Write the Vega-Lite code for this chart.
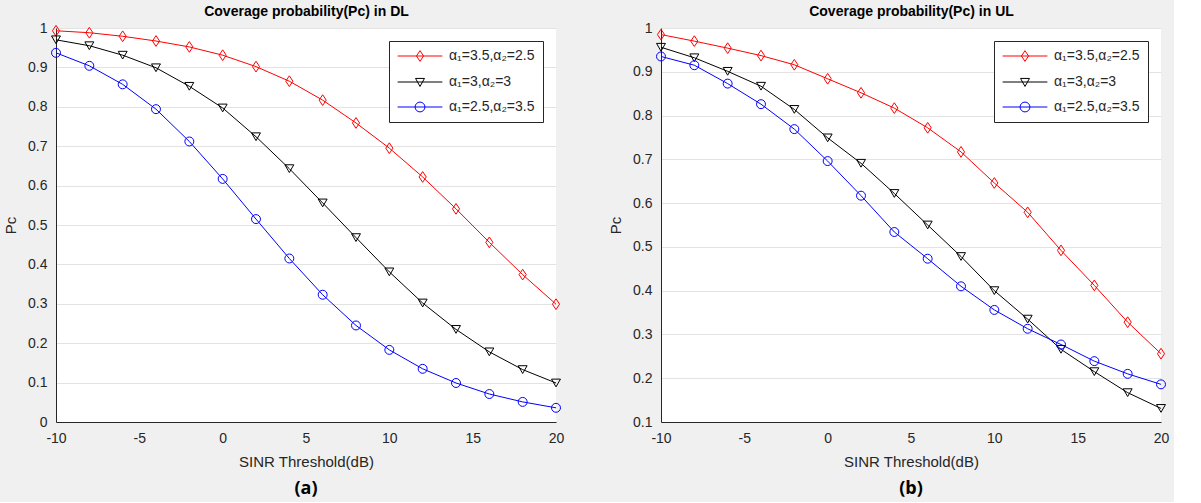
{
  "$schema": "https://vega.github.io/schema/vega-lite/v6.json",
  "background": "#f0f0f0",
  "padding": {"left": 3, "top": 4, "right": 5, "bottom": 4},
  "datasets": {
    "DL": [
      {"x": -10, "y": 0.993, "s": "α₁=3.5,α₂=2.5"}, {"x": -8, "y": 0.988, "s": "α₁=3.5,α₂=2.5"}, {"x": -6, "y": 0.979, "s": "α₁=3.5,α₂=2.5"}, {"x": -4, "y": 0.967, "s": "α₁=3.5,α₂=2.5"},
      {"x": -2, "y": 0.952, "s": "α₁=3.5,α₂=2.5"}, {"x": 0, "y": 0.931, "s": "α₁=3.5,α₂=2.5"}, {"x": 2, "y": 0.902, "s": "α₁=3.5,α₂=2.5"}, {"x": 4, "y": 0.865, "s": "α₁=3.5,α₂=2.5"},
      {"x": 6, "y": 0.817, "s": "α₁=3.5,α₂=2.5"}, {"x": 8, "y": 0.759, "s": "α₁=3.5,α₂=2.5"}, {"x": 10, "y": 0.695, "s": "α₁=3.5,α₂=2.5"}, {"x": 12, "y": 0.622, "s": "α₁=3.5,α₂=2.5"},
      {"x": 14, "y": 0.541, "s": "α₁=3.5,α₂=2.5"}, {"x": 16, "y": 0.456, "s": "α₁=3.5,α₂=2.5"}, {"x": 18, "y": 0.374, "s": "α₁=3.5,α₂=2.5"}, {"x": 20, "y": 0.299, "s": "α₁=3.5,α₂=2.5"},
      {"x": -10, "y": 0.970, "s": "α₁=3,α₂=3"}, {"x": -8, "y": 0.955, "s": "α₁=3,α₂=3"}, {"x": -6, "y": 0.931, "s": "α₁=3,α₂=3"}, {"x": -4, "y": 0.899, "s": "α₁=3,α₂=3"},
      {"x": -2, "y": 0.852, "s": "α₁=3,α₂=3"}, {"x": 0, "y": 0.797, "s": "α₁=3,α₂=3"}, {"x": 2, "y": 0.724, "s": "α₁=3,α₂=3"}, {"x": 4, "y": 0.643, "s": "α₁=3,α₂=3"},
      {"x": 6, "y": 0.556, "s": "α₁=3,α₂=3"}, {"x": 8, "y": 0.468, "s": "α₁=3,α₂=3"}, {"x": 10, "y": 0.381, "s": "α₁=3,α₂=3"}, {"x": 12, "y": 0.302, "s": "α₁=3,α₂=3"},
      {"x": 14, "y": 0.235, "s": "α₁=3,α₂=3"}, {"x": 16, "y": 0.178, "s": "α₁=3,α₂=3"}, {"x": 18, "y": 0.133, "s": "α₁=3,α₂=3"}, {"x": 20, "y": 0.099, "s": "α₁=3,α₂=3"},
      {"x": -10, "y": 0.937, "s": "α₁=2.5,α₂=3.5"}, {"x": -8, "y": 0.904, "s": "α₁=2.5,α₂=3.5"}, {"x": -6, "y": 0.857, "s": "α₁=2.5,α₂=3.5"}, {"x": -4, "y": 0.794, "s": "α₁=2.5,α₂=3.5"},
      {"x": -2, "y": 0.712, "s": "α₁=2.5,α₂=3.5"}, {"x": 0, "y": 0.617, "s": "α₁=2.5,α₂=3.5"}, {"x": 2, "y": 0.515, "s": "α₁=2.5,α₂=3.5"}, {"x": 4, "y": 0.415, "s": "α₁=2.5,α₂=3.5"},
      {"x": 6, "y": 0.323, "s": "α₁=2.5,α₂=3.5"}, {"x": 8, "y": 0.245, "s": "α₁=2.5,α₂=3.5"}, {"x": 10, "y": 0.183, "s": "α₁=2.5,α₂=3.5"}, {"x": 12, "y": 0.135, "s": "α₁=2.5,α₂=3.5"},
      {"x": 14, "y": 0.099, "s": "α₁=2.5,α₂=3.5"}, {"x": 16, "y": 0.071, "s": "α₁=2.5,α₂=3.5"}, {"x": 18, "y": 0.051, "s": "α₁=2.5,α₂=3.5"}, {"x": 20, "y": 0.036, "s": "α₁=2.5,α₂=3.5"}
    ],
    "UL": [
      {"x": -10, "y": 0.985, "s": "α₁=3.5,α₂=2.5"}, {"x": -8, "y": 0.970, "s": "α₁=3.5,α₂=2.5"}, {"x": -6, "y": 0.954, "s": "α₁=3.5,α₂=2.5"}, {"x": -4, "y": 0.937, "s": "α₁=3.5,α₂=2.5"},
      {"x": -2, "y": 0.916, "s": "α₁=3.5,α₂=2.5"}, {"x": 0, "y": 0.884, "s": "α₁=3.5,α₂=2.5"}, {"x": 2, "y": 0.852, "s": "α₁=3.5,α₂=2.5"}, {"x": 4, "y": 0.817, "s": "α₁=3.5,α₂=2.5"},
      {"x": 6, "y": 0.772, "s": "α₁=3.5,α₂=2.5"}, {"x": 8, "y": 0.717, "s": "α₁=3.5,α₂=2.5"}, {"x": 10, "y": 0.646, "s": "α₁=3.5,α₂=2.5"}, {"x": 12, "y": 0.579, "s": "α₁=3.5,α₂=2.5"},
      {"x": 14, "y": 0.492, "s": "α₁=3.5,α₂=2.5"}, {"x": 16, "y": 0.412, "s": "α₁=3.5,α₂=2.5"}, {"x": 18, "y": 0.328, "s": "α₁=3.5,α₂=2.5"}, {"x": 20, "y": 0.256, "s": "α₁=3.5,α₂=2.5"},
      {"x": -10, "y": 0.956, "s": "α₁=3,α₂=3"}, {"x": -8, "y": 0.932, "s": "α₁=3,α₂=3"}, {"x": -6, "y": 0.901, "s": "α₁=3,α₂=3"}, {"x": -4, "y": 0.867, "s": "α₁=3,α₂=3"},
      {"x": -2, "y": 0.814, "s": "α₁=3,α₂=3"}, {"x": 0, "y": 0.749, "s": "α₁=3,α₂=3"}, {"x": 2, "y": 0.691, "s": "α₁=3,α₂=3"}, {"x": 4, "y": 0.622, "s": "α₁=3,α₂=3"},
      {"x": 6, "y": 0.550, "s": "α₁=3,α₂=3"}, {"x": 8, "y": 0.478, "s": "α₁=3,α₂=3"}, {"x": 10, "y": 0.400, "s": "α₁=3,α₂=3"}, {"x": 12, "y": 0.335, "s": "α₁=3,α₂=3"},
      {"x": 14, "y": 0.266, "s": "α₁=3,α₂=3"}, {"x": 16, "y": 0.215, "s": "α₁=3,α₂=3"}, {"x": 18, "y": 0.167, "s": "α₁=3,α₂=3"}, {"x": 20, "y": 0.131, "s": "α₁=3,α₂=3"},
      {"x": -10, "y": 0.935, "s": "α₁=2.5,α₂=3.5"}, {"x": -8, "y": 0.915, "s": "α₁=2.5,α₂=3.5"}, {"x": -6, "y": 0.873, "s": "α₁=2.5,α₂=3.5"}, {"x": -4, "y": 0.826, "s": "α₁=2.5,α₂=3.5"},
      {"x": -2, "y": 0.769, "s": "α₁=2.5,α₂=3.5"}, {"x": 0, "y": 0.696, "s": "α₁=2.5,α₂=3.5"}, {"x": 2, "y": 0.617, "s": "α₁=2.5,α₂=3.5"}, {"x": 4, "y": 0.534, "s": "α₁=2.5,α₂=3.5"},
      {"x": 6, "y": 0.473, "s": "α₁=2.5,α₂=3.5"}, {"x": 8, "y": 0.410, "s": "α₁=2.5,α₂=3.5"}, {"x": 10, "y": 0.356, "s": "α₁=2.5,α₂=3.5"}, {"x": 12, "y": 0.313, "s": "α₁=2.5,α₂=3.5"},
      {"x": 14, "y": 0.277, "s": "α₁=2.5,α₂=3.5"}, {"x": 16, "y": 0.239, "s": "α₁=2.5,α₂=3.5"}, {"x": 18, "y": 0.210, "s": "α₁=2.5,α₂=3.5"}, {"x": 20, "y": 0.186, "s": "α₁=2.5,α₂=3.5"}
    ]
  },
  "spacing": 44,
  "resolve": {"scale": {"color": "independent", "shape": "independent", "x": "independent", "y": "independent"}, "legend": {"color": "independent", "shape": "independent"}},
  "hconcat": [
    {
      "title": {"text": "(a)", "orient": "bottom", "anchor": "middle", "fontSize": 18, "fontWeight": "bold", "color": "#000000", "offset": 11, "font": "Open Sans"},
      "width": 500,
      "height": 394,
      "data": {"name": "DL"},
      "encoding": {
        "y": {"field": "y", "type": "quantitative", "scale": {"domain": [0, 1], "nice": false}, "axis": {"title": "Pc", "values": [0, 0.1, 0.2, 0.3, 0.4, 0.5, 0.6, 0.7, 0.8, 0.9, 1], "format": ".1~f"}}
      },
      "resolve": {"axis": {"x": "independent"}, "scale": {"shape": "independent", "color": "independent"}, "legend": {"shape": "independent", "color": "independent"}},
      "layer": [
        {"mark": {"type": "line", "strokeWidth": 1},
         "encoding": {
           "x": {"field": "x", "type": "quantitative", "scale": {"domain": [-10, 20], "nice": false}, "axis": {"orient": "top", "title": "Coverage probability(Pc) in DL", "titleFontWeight": "bold", "titleColor": "#000000", "titleFontSize": 14, "titlePadding": 10, "labels": false, "domain": false, "grid": false, "ticks": false}},
           "color": {"field": "s", "type": "nominal", "scale": {"domain": ["α₁=3.5,α₂=2.5", "α₁=3,α₂=3", "α₁=2.5,α₂=3.5"], "range": ["#ff0000", "#000000", "#0000ff"]}, "legend": null}}},
        {"mark": {"type": "point", "filled": false, "size": 80, "strokeWidth": 1, "opacity": 1},
         "encoding": {
           "x": {"field": "x", "type": "quantitative", "scale": {"domain": [-10, 20], "nice": false}, "axis": {"orient": "bottom", "title": "SINR Threshold(dB)", "values": [-10, -5, 0, 5, 10, 15, 20], "labelExpr": "replace(format(datum.value, 'd'), '−', '-')"}},
           "color": {"field": "s", "type": "nominal", "scale": {"domain": ["α₁=3.5,α₂=2.5", "α₁=3,α₂=3", "α₁=2.5,α₂=3.5"], "range": ["#ff0000", "#000000", "#0000ff"]}, "legend": null},
           "shape": {"field": "s", "type": "nominal", "scale": {"domain": ["α₁=3.5,α₂=2.5", "α₁=3,α₂=3", "α₁=2.5,α₂=3.5"], "range": ["M0,-1.2L0.8,0L0,1.2L-0.8,0Z", "triangle-down", "circle"]}, "legend": null}}},
        {"transform": [{"filter": "datum.x > 100"}],
         "mark": {"type": "point", "filled": false, "size": 80, "strokeWidth": 1, "opacity": 1},
         "encoding": {
           "x": {"field": "x", "type": "quantitative", "scale": {"domain": [-10, 20], "nice": false}, "axis": null},
           "color": {"field": "s", "type": "nominal", "scale": {"domain": ["α₁=3.5,α₂=2.5", "α₁=3,α₂=3", "α₁=2.5,α₂=3.5"], "range": ["#ff0000", "#000000", "#0000ff"]}, "legend": {"title": null}},
           "shape": {"field": "s", "type": "nominal", "scale": {"domain": ["α₁=3.5,α₂=2.5", "α₁=3,α₂=3", "α₁=2.5,α₂=3.5"], "range": ["M-5,0H5M0,-1.2L0.8,0L0,1.2L-0.8,0Z", "M-5,0H5M-1,-0.8L1,-0.8L0,1Z", "M-5,0H5M1.1,0A1.1,1.1,0,1,1,-1.1,0A1.1,1.1,0,1,1,1.1,0Z"]}, "legend": {"title": null}}}}
      ]
    },
    {
      "title": {"text": "(b)", "orient": "bottom", "anchor": "middle", "fontSize": 18, "fontWeight": "bold", "color": "#000000", "offset": 11, "font": "Open Sans"},
      "width": 500,
      "height": 394,
      "data": {"name": "UL"},
      "encoding": {
        "y": {"field": "y", "type": "quantitative", "scale": {"domain": [0.1, 1], "nice": false}, "axis": {"title": "Pc", "values": [0.1, 0.2, 0.3, 0.4, 0.5, 0.6, 0.7, 0.8, 0.9, 1], "format": ".1~f"}}
      },
      "resolve": {"axis": {"x": "independent"}, "scale": {"shape": "independent", "color": "independent"}, "legend": {"shape": "independent", "color": "independent"}},
      "layer": [
        {"mark": {"type": "line", "strokeWidth": 1},
         "encoding": {
           "x": {"field": "x", "type": "quantitative", "scale": {"domain": [-10, 20], "nice": false}, "axis": {"orient": "top", "title": "Coverage probability(Pc) in UL", "titleFontWeight": "bold", "titleColor": "#000000", "titleFontSize": 14, "titlePadding": 10, "labels": false, "domain": false, "grid": false, "ticks": false}},
           "color": {"field": "s", "type": "nominal", "scale": {"domain": ["α₁=3.5,α₂=2.5", "α₁=3,α₂=3", "α₁=2.5,α₂=3.5"], "range": ["#ff0000", "#000000", "#0000ff"]}, "legend": null}}},
        {"mark": {"type": "point", "filled": false, "size": 80, "strokeWidth": 1, "opacity": 1},
         "encoding": {
           "x": {"field": "x", "type": "quantitative", "scale": {"domain": [-10, 20], "nice": false}, "axis": {"orient": "bottom", "title": "SINR Threshold(dB)", "values": [-10, -5, 0, 5, 10, 15, 20], "labelExpr": "replace(format(datum.value, 'd'), '−', '-')"}},
           "color": {"field": "s", "type": "nominal", "scale": {"domain": ["α₁=3.5,α₂=2.5", "α₁=3,α₂=3", "α₁=2.5,α₂=3.5"], "range": ["#ff0000", "#000000", "#0000ff"]}, "legend": null},
           "shape": {"field": "s", "type": "nominal", "scale": {"domain": ["α₁=3.5,α₂=2.5", "α₁=3,α₂=3", "α₁=2.5,α₂=3.5"], "range": ["M0,-1.2L0.8,0L0,1.2L-0.8,0Z", "triangle-down", "circle"]}, "legend": null}}},
        {"transform": [{"filter": "datum.x > 100"}],
         "mark": {"type": "point", "filled": false, "size": 80, "strokeWidth": 1, "opacity": 1},
         "encoding": {
           "x": {"field": "x", "type": "quantitative", "scale": {"domain": [-10, 20], "nice": false}, "axis": null},
           "color": {"field": "s", "type": "nominal", "scale": {"domain": ["α₁=3.5,α₂=2.5", "α₁=3,α₂=3", "α₁=2.5,α₂=3.5"], "range": ["#ff0000", "#000000", "#0000ff"]}, "legend": {"title": null}},
           "shape": {"field": "s", "type": "nominal", "scale": {"domain": ["α₁=3.5,α₂=2.5", "α₁=3,α₂=3", "α₁=2.5,α₂=3.5"], "range": ["M-5,0H5M0,-1.2L0.8,0L0,1.2L-0.8,0Z", "M-5,0H5M-1,-0.8L1,-0.8L0,1Z", "M-5,0H5M1.1,0A1.1,1.1,0,1,1,-1.1,0A1.1,1.1,0,1,1,1.1,0Z"]}, "legend": {"title": null}}}}
      ]
    }
  ],
  "config": {
    "font": "Liberation Sans",
    "view": {"fill": "#ffffff", "stroke": null},
    "axis": {"labelFont": "Liberation Sans", "labelFontSize": 14, "labelColor": "#262626", "titleFont": "Liberation Sans", "titleFontSize": 15, "titleFontWeight": "normal", "titleColor": "#262626", "gridColor": "#e3e3e3", "gridOpacity": 1, "domainColor": "#262626", "ticks": false, "labelPadding": 9, "titlePadding": 9, "labelFlush": false, "labelOverlap": false},
    "legend": {"orient": "top-right", "offset": 13, "fillColor": "#ffffff", "strokeColor": "#262626", "padding": 8, "labelFont": "Liberation Sans", "labelFontSize": 14, "labelColor": "#262626", "symbolSize": 80, "symbolStrokeWidth": 1, "rowPadding": 11, "symbolOffset": 16, "labelOffset": 22}
  }
}
